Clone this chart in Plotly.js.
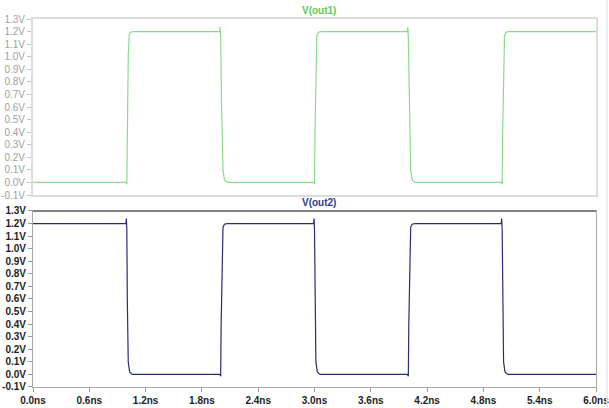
<!DOCTYPE html>
<html>
<head>
<meta charset="utf-8">
<script src="https://cdn.plot.ly/plotly-3.0.1.min.js"></script>
<style>html,body{margin:0;padding:0;background:#fff;}#chart{width:609px;height:408px;}</style>
</head>
<body>
<div id="chart"></div>
<script>
// Time (ns) and voltage (V) samples
const tOut1 = [0, 0.99, 1.0, 1.005, 1.015, 1.025, 1.04, 1.07, 1.99, 1.995, 2.0, 2.01, 2.025, 2.04, 2.07, 2.99, 3.0, 3.005, 3.015, 3.025, 3.04, 3.07, 3.99, 3.995, 4.0, 4.01, 4.025, 4.04, 4.07, 4.99, 5.0, 5.005, 5.015, 5.025, 5.04, 5.07, 6.0];
const vOut1 = [0, 0, -0.015, 0.4, 1.0, 1.17, 1.195, 1.2, 1.2, 1.235, 1.15, 0.6, 0.1, 0.02, 0, 0, -0.015, 0.4, 1.0, 1.17, 1.195, 1.2, 1.2, 1.235, 1.15, 0.6, 0.1, 0.02, 0, 0, -0.015, 0.4, 1.0, 1.17, 1.195, 1.2, 1.2];

const tOut2 = [0, 0.99, 0.995, 1.0, 1.005, 1.015, 1.03, 1.06, 1.99, 2.0, 2.005, 2.015, 2.025, 2.04, 2.07, 2.99, 2.995, 3.0, 3.005, 3.015, 3.03, 3.06, 3.99, 4.0, 4.005, 4.015, 4.025, 4.04, 4.07, 4.99, 4.995, 5.0, 5.005, 5.015, 5.03, 5.06, 6.0];
const vOut2 = [1.2, 1.2, 1.24, 1.15, 0.6, 0.1, 0.02, 0, 0, -0.015, 0.4, 1.0, 1.17, 1.195, 1.2, 1.2, 1.24, 1.15, 0.6, 0.1, 0.02, 0, 0, -0.015, 0.4, 1.0, 1.17, 1.195, 1.2, 1.2, 1.24, 1.15, 0.6, 0.1, 0.02, 0, 0];

const yTickVals = [1.3, 1.2, 1.1, 1.0, 0.9, 0.8, 0.7, 0.6, 0.5, 0.4, 0.3, 0.2, 0.1, 0.0, -0.1];
const yTickText = ['1.3V', '1.2V', '1.1V', '1.0V', '0.9V', '0.8V', '0.7V', '0.6V', '0.5V', '0.4V', '0.3V', '0.2V', '0.1V', '0.0V', '-0.1V'];
const xTickVals = [0, 0.6, 1.2, 1.8, 2.4, 3.0, 3.6, 4.2, 4.8, 5.4, 6.0];
const xTickText = ['0.0ns', '0.6ns', '1.2ns', '1.8ns', '2.4ns', '3.0ns', '3.6ns', '4.2ns', '4.8ns', '5.4ns', '6.0ns'];
const traceNames = ['V(out1)', 'V(out2)'];

const FONT = 'Liberation Sans, Arial, sans-serif';

const traces = [
  {x: tOut1, y: vOut1, xaxis: 'x2', yaxis: 'y', mode: 'lines', name: traceNames[0],
   line: {color: '#8adb8a', width: 1.2}, hoverinfo: 'skip'},
  {x: tOut2, y: vOut2, xaxis: 'x', yaxis: 'y2', mode: 'lines', name: traceNames[1],
   line: {color: '#2c2c78', width: 1.2}, hoverinfo: 'skip'}
];

const topDom = [0.5217, 1];
const botDom = [0, 0.4783];

const layout = {
  width: 609, height: 408,
  margin: {l: 33, r: 13, t: 19, b: 21},
  paper_bgcolor: '#ffffff', plot_bgcolor: '#ffffff',
  showlegend: false,
  font: {family: FONT, size: 10},
  xaxis: {
    domain: [0, 1], anchor: 'y2', range: [0, 6],
    tickvals: xTickVals, ticktext: xTickText,
    ticks: 'outside', ticklen: 4, tickcolor: '#9a9a9a',
    ticklabeloverflow: 'allow',
    tickfont: {family: FONT, size: 10, color: '#1e1e1e', weight: 'bold'},
    showgrid: false, zeroline: false,
    showline: true, linecolor: '#a8a8a8', linewidth: 1, mirror: true
  },
  xaxis2: {
    domain: [0, 1], anchor: 'y', range: [0, 6],
    showticklabels: false, ticks: '', showgrid: false, zeroline: false,
    showline: true, linecolor: '#dcdcdc', linewidth: 2, mirror: true
  },
  yaxis: {
    domain: topDom, anchor: 'x2', range: [-0.1, 1.3],
    tickvals: yTickVals, ticktext: yTickText,
    ticks: 'outside', ticklen: 4, tickcolor: '#c4c4c4',
    tickfont: {family: FONT, size: 10, color: '#a0a0a0'},
    showgrid: false, zeroline: false,
    showline: true, linecolor: '#dcdcdc', linewidth: 2, mirror: true
  },
  yaxis2: {
    domain: botDom, anchor: 'x', range: [-0.1, 1.3],
    tickvals: yTickVals, ticktext: yTickText,
    ticks: 'outside', ticklen: 4, tickcolor: '#9a9a9a',
    tickfont: {family: FONT, size: 10, color: '#1e1e1e', weight: 'bold'},
    showgrid: false, zeroline: false,
    showline: true, linecolor: '#a8a8a8', linewidth: 1, mirror: true
  },
  shapes: [
    {type: 'line', xref: 'paper', yref: 'paper', x0: 0, x1: 1, y0: botDom[1], y1: botDom[1],
     line: {color: '#808080', width: 2}},
    {type: 'line', xref: 'paper', yref: 'paper', x0: 1.0195, x1: 1.0195, y0: -0.06, y1: 1.052,
     line: {color: '#dfe8f4', width: 1.5}}
  ],
  annotations: [
    {text: '<b>' + traceNames[0] + '</b>', xref: 'paper', yref: 'paper', x: 0.508, y: 1,
     yanchor: 'middle', yshift: 9, showarrow: false, font: {family: FONT, size: 10, color: '#5ccc5c'}},
    {text: '<b>' + traceNames[1] + '</b>', xref: 'paper', yref: 'paper', x: 0.508, y: botDom[1],
     yanchor: 'middle', yshift: 8, showarrow: false, font: {family: FONT, size: 10, color: '#2f3a8c'}}
  ]
};

Plotly.newPlot('chart', traces, layout, {staticPlot: true, displayModeBar: false});
</script>
</body>
</html>
